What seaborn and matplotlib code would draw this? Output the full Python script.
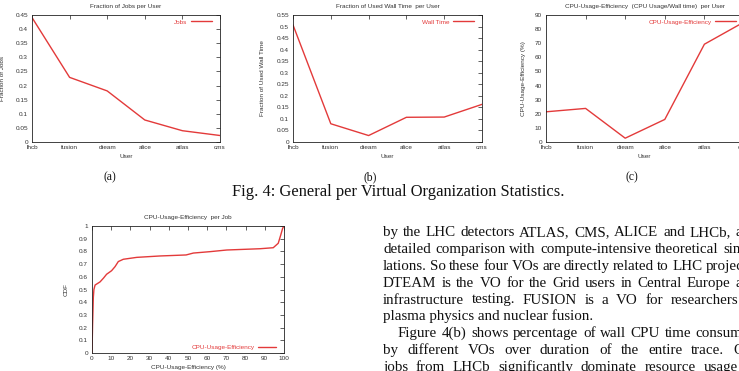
import matplotlib
matplotlib.use("Agg")
import matplotlib.pyplot as plt
import numpy as np
import pandas as pd
import seaborn as sns
from matplotlib.ticker import MultipleLocator, FuncFormatter

# ---------------- data ----------------
users = ["lhcb", "fusion", "dteam", "alice", "atlas", "cms"]
jobs_fraction = [0.441, 0.229, 0.181, 0.078, 0.040, 0.023]
walltime_fraction = [0.507, 0.079, 0.028, 0.107, 0.108, 0.163]
cpu_eff_user = [21.4, 23.8, 2.7, 16.0, 69.3, 85.0]

cdf_eff = [0, 0.3, 0.7, 1.0, 1.6, 4.2, 6.0, 7.6, 10.2, 12.0, 13.7, 16.3, 23.3,
           35.4, 44.0, 49.0, 52.8, 61.5, 70.2, 87.5, 94.4, 97.0, 98.3, 99.3, 100]
cdf_val = [0, 0.22, 0.44, 0.50, 0.535, 0.56, 0.59, 0.62, 0.648, 0.68, 0.72, 0.738,
           0.753, 0.764, 0.769, 0.772, 0.787, 0.798, 0.811, 0.821, 0.829, 0.864,
           0.929, 0.982, 1.0]

titles = ["Fraction of Jobs per User", "Fraction of Used Wall Time  per User",
          "CPU-Usage-Efficiency  (CPU Usage/Wall time)  per User"]
ylabels = ["Fraction of Jobs", "Fraction of Used Wall Time", "CPU-Usage-Efficiency (%)"]
legend_labels = ["Jobs", "Wall Time", "CPU-Usage-Efficiency"]
sub_labels = ["(a)", "(b)", "(c)"]
caption = "Fig. 4: General per Virtual Organization Statistics."

body_lines = [
    "by the LHC detectors ATLAS, CMS, ALICE and LHCb, and",
    "detailed comparison with compute-intensive theoretical simu-",
    "lations. So these four VOs are directly related to LHC projects.",
    "DTEAM is the VO for the Grid users in Central Europe and",
    "infrastructure testing. FUSION is a VO for researchers in",
    "plasma physics and nuclear fusion.",
    "Figure 4(b) shows percentage of wall CPU time consumed",
    "by different VOs over duration of the entire trace. Our",
    "jobs from LHCb significantly dominate resource usage in",
]

# ---------------- style ----------------
sns.set_style("white")
plt.rcParams["font.family"] = ["Liberation Sans", "DejaVu Sans"]

W, H = 739, 371
fig = plt.figure(figsize=(W / 100, H / 100), dpi=100)

RED = "#e33a3a"
TXT = "#333333"
FS = 4.6
SERIF = ["Liberation Serif", "DejaVu Serif"]


def add_ax(box):
    x0, y0, x1, y1 = box
    return fig.add_axes([x0 / W, 1 - y1 / H, (x1 - x0) / W, (y1 - y0) / H])


def axc(box, px, py):
    x0, y0, x1, y1 = box
    return (px - x0) / (x1 - x0), (y1 - py) / (y1 - y0)


def style(ax):
    for s in ax.spines.values():
        s.set_visible(True)
        s.set_linewidth(0.6)
        s.set_color("#222222")
    ax.tick_params(direction="in", length=2.6, width=0.5, top=True, right=True,
                   labelsize=FS, colors="#222222", labelcolor=TXT)
    ax.tick_params(axis="x", pad=2.4)
    ax.tick_params(axis="y", pad=2.9)
    ax.yaxis.set_major_formatter(FuncFormatter(lambda v, p: "%g" % round(v, 3)))
    ax.grid(False)


fmt = dict(fontsize=FS, color=TXT)

boxes = [(32, 15, 220, 142), (293, 15, 482, 142), (546, 15, 744, 142)]
series = [jobs_fraction, walltime_fraction, cpu_eff_user]
ymaxes = [0.45, 0.55, 90]
steps = [0.05, 0.05, 10]
ylab_right = [5.5, 265.5, 526.5]
leg_end = [212, 474, 736]
label_x = [110, 370, 632]

for i in range(3):
    box = boxes[i]
    ax = add_ax(box)
    df = pd.DataFrame({"User": users, "value": series[i]})
    sns.lineplot(data=df, x="User", y="value", ax=ax, color=RED, linewidth=1.0,
                 label=legend_labels[i], sort=False, estimator=None)
    ax.set_xlim(0, 5)
    ax.set_ylim(0, ymaxes[i])
    ax.yaxis.set_major_locator(MultipleLocator(steps[i]))
    style(ax)
    ax.set_title(titles[i], pad=4.7, **fmt)
    ax.set_xlabel("User", **fmt)
    ax.set_ylabel(ylabels[i], **fmt)
    ax.xaxis.set_label_coords(*axc(box, (box[0] + box[2]) / 2 if i < 2 else 644, 154.3))
    ax.yaxis.set_label_coords(axc(box, ylab_right[i], 0)[0], 0.5)
    ax.legend(loc="center right", bbox_to_anchor=axc(box, leg_end[i], 22),
              frameon=False, fontsize=FS, markerfirst=False, handlelength=3.3,
              handletextpad=0.5, borderpad=0, borderaxespad=0, labelcolor="linecolor")
    fig.text(label_x[i] / W, 1 - 177 / H, sub_labels[i], ha="center", va="center",
             fontsize=8.4, family=SERIF, color="#111111")

# CDF panel
box = (92, 226, 284, 353)
ax = add_ax(box)
cdf_df = pd.DataFrame({"eff": cdf_eff, "cdf": cdf_val})
sns.lineplot(data=cdf_df, x="eff", y="cdf", ax=ax, color=RED, linewidth=1.0,
             label="CPU-Usage-Efficiency", sort=False, estimator=None)
ax.set_xlim(0, 100)
ax.set_ylim(0, 1)
ax.xaxis.set_major_locator(MultipleLocator(10))
ax.yaxis.set_major_locator(MultipleLocator(0.1))
style(ax)
ax.set_title("CPU-Usage-Efficiency  per Job", pad=5.4, **fmt)
ax.set_xlabel("CPU-Usage-Efficiency (%)", **fmt)
ax.set_ylabel("CDF", **fmt)
ax.xaxis.set_label_coords(*axc(box, 188, 364.5))
ax.yaxis.set_label_coords(axc(box, 68.5, 0)[0], 0.5)
ax.legend(loc="center right", bbox_to_anchor=axc(box, 276, 347),
          frameon=False, fontsize=FS, markerfirst=False, handlelength=2.8,
          handletextpad=0.5, borderpad=0, borderaxespad=0, labelcolor="linecolor")

# ---------------- document text ----------------
fig.canvas.draw()
rend = fig.canvas.get_renderer()


def tw(s, size):
    t = fig.text(0, 0, s, fontsize=size, family=SERIF)
    w = t.get_window_extent(rend).width
    t.remove()
    return w


cap_fs = 10 * 332 / tw(caption, 10)
fig.text(398 / W, 1 - 192 / H, caption, ha="center", va="center",
         fontsize=cap_fs, family=SERIF, color="#111111")

body_fs = 10 * 210 / tw("plasma physics and nuclear fusion.", 10)
LEFT, RIGHT = 383, 757
for k, line in enumerate(body_lines):
    yb = 232.7 + 16.8 * k + 3.6
    x_start = LEFT + (15 if line.startswith("Figure") else 0)
    words = line.split(" ")
    if line.endswith("fusion."):
        fig.text(x_start / W, 1 - yb / H, line, ha="left", va="baseline",
                 fontsize=body_fs, family=SERIF, color="#111111")
        continue
    widths = [tw(w_, body_fs) for w_ in words]
    gap = (RIGHT - x_start - sum(widths)) / (len(words) - 1)
    x = x_start
    for w_, wd in zip(words, widths):
        fig.text(x / W, 1 - yb / H, w_, ha="left", va="baseline",
                 fontsize=body_fs, family=SERIF, color="#111111")
        x += wd + gap

fig.savefig("out.png", dpi=100)
